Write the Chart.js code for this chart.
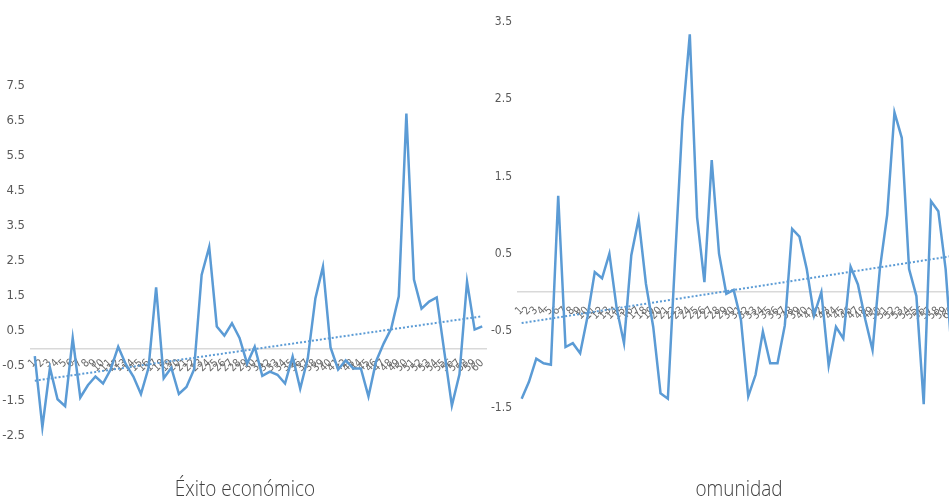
<!DOCTYPE html>
<html>
<head>
<meta charset="utf-8">
<script src="https://cdn.jsdelivr.net/npm/chart.js@4.4.1/dist/chart.umd.min.js"></script>
<style>
  html, body { margin: 0; padding: 0; background: #fff; width: 949px; height: 500px; overflow: hidden; }
  #leftBox { position: absolute; left: 0; top: 0; width: 490px; height: 500px; }
  #rightBox { position: absolute; left: 490px; top: 0; width: 459px; height: 500px; overflow: hidden; }
  .cap {
    position: absolute; top: 476px; line-height: 22px;
    font-family: 'Open Sans', 'Noto Sans', sans-serif; font-weight: 300; font-size: 22px;
    color: #404040; white-space: nowrap;
    transform: translateX(-50%) scale(0.86, 1); transform-origin: center top;
  }
</style>
</head>
<body>
<div id="leftBox"><canvas id="exito" width="490" height="500"></canvas></div>
<div id="rightBox"><canvas id="comunidad" width="480" height="500"></canvas></div>
<div class="cap" style="left:245px">Éxito económico</div>
<div class="cap" style="left:739px">omunidad</div>
<script>
// Category labels along the x axis (one per observation)
const categories = ['1','2','3','4','5','6','7','8','9','10','11','12','13','14','15','16','17','18','19','20',
  '21','22','23','24','25','26','27','28','29','30','31','32','33','34','35','36','37','38','39','40',
  '41','42','43','44','45','46','47','48','49','50','51','52','53','54','55','56','57','58','59','60'];

// Éxito económico series
const exitoValues = [-0.22, -2.25, -0.55, -1.45, -1.65, 0.30, -1.40, -1.05, -0.80, -1.00,
  -0.60, 0.05, -0.45, -0.80, -1.30, -0.55, 1.75, -0.85, -0.55, -1.30,
  -1.10, -0.60, 2.10, 2.90, 0.63, 0.37, 0.72, 0.30, -0.43, 0.05,
  -0.78, -0.66, -0.75, -1.00, -0.23, -1.15, -0.28, 1.43, 2.34, 0.03,
  -0.60, -0.34, -0.57, -0.57, -1.37, -0.37, 0.14, 0.57, 1.49, 6.71,
  1.97, 1.14, 1.34, 1.46, -0.09, -1.63, -0.74, 1.91, 0.54, 0.63];

// Comunidad series
const comunidadValues = [-1.38, -1.16, -0.86, -0.92, -0.94, 1.25, -0.71, -0.66, -0.79, -0.32,
  0.26, 0.18, 0.50, -0.21, -0.66, 0.48, 0.95, 0.11, -0.45, -1.31,
  -1.38, 0.45, 2.23, 3.34, 0.97, 0.13, 1.71, 0.50, -0.02, 0.03,
  -0.36, -1.35, -1.07, -0.51, -0.92, -0.92, -0.43, 0.82, 0.72, 0.30,
  -0.30, 0.00, -0.95, -0.45, -0.60, 0.33, 0.10, -0.35, -0.75, 0.30,
  1.00, 2.33, 2.00, 0.30, -0.05, -1.45, 1.18, 1.05, 0.30, -1.00];

// Linear trend lines: value at the first and at the last category
const exitoTrend = [-0.92, 0.92];
const comunidadTrend = [-0.40, 0.47];

// Value-axis tick labels
const exitoTicks = [-2.5, -1.5, -0.5, 0.5, 1.5, 2.5, 3.5, 4.5, 5.5, 6.5, 7.5];
const comunidadTicks = [-1.5, -0.5, 0.5, 1.5, 2.5, 3.5];

const BLUE = '#5b9bd5';
const NARROW = "'Liberation Sans Narrow', 'DejaVu Sans Condensed', 'Liberation Sans', sans-serif";

function buildChart(id, values, trend, ticks, cfg) {
  const trendPoints = [
    { x: categories[0], y: trend[0] },
    { x: categories[categories.length - 1], y: trend[1] }
  ];
  return new Chart(document.getElementById(id), {
    type: 'line',
    data: {
      labels: categories,
      datasets: [
        { data: values, borderColor: BLUE, borderWidth: 2.5, pointRadius: 0, tension: 0, fill: false, order: 1 },
        { data: trendPoints, borderColor: BLUE, borderWidth: 2, borderDash: [2, 2], pointRadius: 0, fill: false, order: 2 }
      ]
    },
    options: {
      responsive: false,
      animation: false,
      events: [],
      layout: { padding: { top: cfg.top, bottom: cfg.bottom, left: 0, right: cfg.right } },
      plugins: { legend: { display: false }, tooltip: { enabled: false }, title: { display: false } },
      scales: {
        x: {
          type: 'category',
          offset: true,
          position: { y: 0 },
          grid: { display: true, color: 'rgba(0,0,0,0)', drawTicks: false },
          border: { display: true, color: '#d9d9d9', width: 1.5 },
          // rotated labels should not shrink the plot area sideways
          afterFit: (s) => { s.paddingLeft = 0; s.paddingRight = 0; },
          ticks: { autoSkip: false, minRotation: 45, maxRotation: 45, padding: cfg.xPad, color: '#6a6a6a',
                   font: { family: NARROW, size: 11 } }
        },
        y: {
          type: 'linear',
          min: ticks[0],
          max: ticks[ticks.length - 1],
          grid: { display: false, drawTicks: false },
          border: { display: false },
          afterBuildTicks: (s) => { s.ticks = ticks.map(v => ({ value: v })); },
          afterFit: (s) => { s.width = cfg.yWidth; },
          ticks: { padding: 6, color: '#595959', font: { family: NARROW, size: cfg.yFont },
                   callback: (v) => Number(v).toFixed(1) }
        }
      }
    }
  });
}

buildChart('exito', exitoValues, exitoTrend, exitoTicks, { top: 86, bottom: 64, right: 4, yWidth: 31, yFont: 13, xPad: 8 });
buildChart('comunidad', comunidadValues, comunidadTrend, comunidadTicks, { top: 22, bottom: 92, right: 13.4, yWidth: 28, yFont: 12, xPad: 12 });
</script>
</body>
</html>
